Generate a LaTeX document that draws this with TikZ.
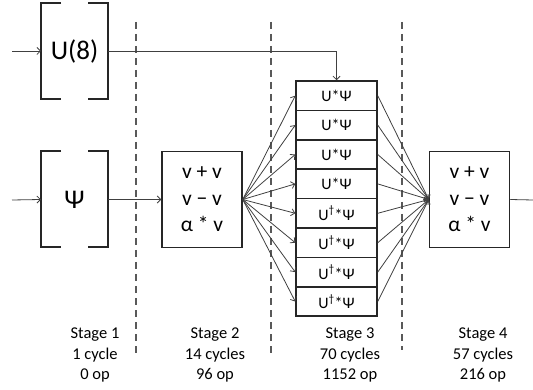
\documentclass[tikz,border=0pt]{standalone}
\usepackage{fontspec}
\setmainfont{Carlito}
\usetikzlibrary{arrows.meta}

\begin{document}
\begin{tikzpicture}[line cap=butt,line join=miter,>={Straight Barb[length=3.5pt,width=7pt]},x=1pt,y=-1pt,
    link/.style={draw=black!75,line width=0.8pt},
    sep/.style={draw=black!65,line width=1.2pt,dash pattern=on 7pt off 5pt},
    bracket/.style={draw=black!85,line width=2pt},
    gate/.style={minimum width=67pt,minimum height=96pt,outer sep=0pt,font=\fontsize{27}{30}\selectfont},
    opbox/.style={draw=black!85,line width=1.5pt,minimum width=80pt,minimum height=96pt,align=center,font=\fontsize{21.5}{26.5}\selectfont},
    mulbox/.style={draw=black!85,line width=1.5pt,minimum width=81pt,minimum height=29.4pt,inner sep=0pt,font=\fontsize{16}{18}\selectfont},
    stage/.style={align=center,font=\fontsize{16.5}{20.5}\selectfont}]
  \useasboundingbox (0,0) rectangle (533,390);
  % stage borders
  \draw [sep] (136,22) -- (136,357);
  \draw [sep] (271,22) -- (271,357);
  \draw [sep] (402,22) -- (402,350);
  % stage 1
  \node [gate] (u8) at (74.5,51) {U(8)};
  \node [gate] (psi) at (74.5,199.5) {Ψ};
  \foreach \g in {u8,psi} {
    \draw [bracket] ([xshift=20pt]\g.north west) -- (\g.north west) -- (\g.south west) -- ([xshift=20pt]\g.south west);
    \draw [bracket] ([xshift=-20pt]\g.north east) -- (\g.north east) -- (\g.south east) -- ([xshift=-20pt]\g.south east);
  }
  \coordinate (inu) at (12,51);
  \coordinate (inpsi) at (12,200);
  \draw [link,->] (inu) -- (u8.west);
  \draw [link,->] (inpsi) -- (psi.west);
  % stage 2
  \node [opbox] (op2) at (202,199.5) {v + v\\v − v\\α * v};
  \draw [link,->] (psi.east) -- (op2.west);
  % stage 3
  \foreach \i in {1,...,4}
    \node [mulbox] (s\i) at (336.5,{81+29.4*(\i-0.5)}) {U*Ψ};
  \foreach \i in {5,...,8}
    \node [mulbox] (s\i) at (336.5,{81+29.4*(\i-0.5)}) {U\textsuperscript{†}*Ψ};
  \draw [link,->] (u8.east) -| (s1.north);
  % stage 4
  \node [opbox] (op4) at (469.5,199.5) {v + v\\v − v\\α * v};
  \foreach \i in {1,...,8} {
    \draw [link,->] (op2.east) -- (s\i.west);
    \draw [link,->] (s\i.east) -- (op4.west);
  }
  \coordinate (out) at (533,200);
  \draw [link] (op4.east) -- (out);
  % stage notes
  \node [stage] (st1) at (95,355) {Stage 1\\1 cycle\\0 op};
  \node [stage] (st2) at (215,355) {Stage 2\\14 cycles\\96 op};
  \node [stage] (st3) at (350,355) {Stage 3\\70 cycles\\1152 op};
  \node [stage] (st4) at (483,355) {Stage 4\\57 cycles\\216 op};
\end{tikzpicture}
\end{document}
